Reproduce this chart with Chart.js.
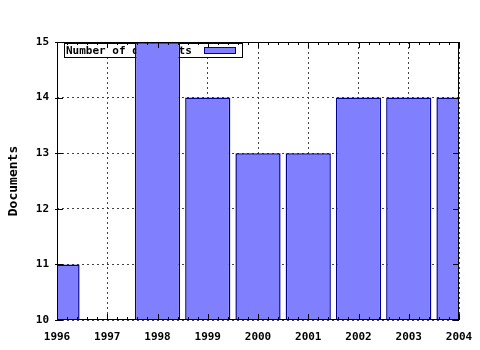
<!DOCTYPE html>
<html>
<head>
<meta charset="utf-8">
<script src="https://cdn.jsdelivr.net/npm/chart.js@4"></script>
<style>
  html, body { margin: 0; padding: 0; background: #fff; }
  canvas { display: block; }
</style>
</head>
<body>
<canvas id="chart" width="480" height="350"></canvas>
<script>
// data
const years = [1996, 1997, 1998, 1999, 2000, 2001, 2002, 2003, 2004];
const documents = [11, null, 15, 14, 13, 13, 14, 14, 14];
const legendLabel = 'Number of documents';
const axisTitle = 'Documents';

const monoFont = 'DejaVu Sans Mono';

// frame, gnuplot style ticks and the boxed legend
const framePlugin = {
  id: 'frame',
  beforeDatasetsDraw(chart) {
    const ctx = chart.ctx;
    const a = chart.chartArea;
    ctx.save();
    const x0 = Math.round(a.left) + 7, y0 = Math.round(a.top) + 1;
    ctx.font = 'bold 11px ' + monoFont;
    const tw = ctx.measureText(legendLabel).width;
    const w = Math.round(tw) + 52, h = 14;
    ctx.fillStyle = '#fff';
    ctx.fillRect(x0, y0, w, h);
    ctx.strokeStyle = '#000';
    ctx.lineWidth = 1;
    ctx.strokeRect(x0 + 0.5, y0 + 0.5, w, h);
    ctx.fillStyle = '#000';
    ctx.textBaseline = 'middle';
    ctx.fillText(legendLabel, x0 + 2, y0 + h / 2 + 1);
    ctx.fillStyle = '#8080ff';
    ctx.fillRect(x0 + w - 38, y0 + 4, 32, 7);
    ctx.strokeStyle = '#0000a0';
    ctx.strokeRect(x0 + w - 38 + 0.5, y0 + 4.5, 31, 6);
    ctx.restore();
  },
  afterDatasetsDraw(chart) {
    const ctx = chart.ctx;
    const a = chart.chartArea;
    const xs = chart.scales.x, ys = chart.scales.y;
    ctx.save();
    ctx.strokeStyle = '#000';
    ctx.lineWidth = 1;
    ctx.beginPath();
    // minor and major x ticks, bottom and top
    for (let i = 0; i <= (xs.max - xs.min) * 5; i++) {
      const v = xs.min + i / 5;
      const px = Math.round(xs.getPixelForValue(v)) + 0.5;
      const len = i % 5 === 0 ? 6 : 3;
      ctx.moveTo(px, a.bottom);
      ctx.lineTo(px, a.bottom - len);
      ctx.moveTo(px, a.top);
      ctx.lineTo(px, a.top + len);
    }
    ys.ticks.forEach(t => {
      const py = Math.round(ys.getPixelForValue(t.value)) + 0.5;
      ctx.moveTo(a.left - 2, py);
      ctx.lineTo(a.left + 6, py);
      ctx.moveTo(a.right, py);
      ctx.lineTo(a.right - 6, py);
    });
    ctx.stroke();
    ctx.strokeRect(Math.round(a.left) + 0.5, Math.round(a.top) + 0.5,
      Math.round(a.right - a.left) - 1, Math.round(a.bottom - a.top) - 1);
    ctx.restore();
  }
};

new Chart(document.getElementById('chart'), {
  type: 'bar',
  data: {
    datasets: [{
      label: legendLabel,
      data: years.map((y, i) => ({ x: y, y: documents[i] })),
      base: 10,
      backgroundColor: '#8080ff',
      borderColor: '#000090',
      borderWidth: 1.5,
      borderSkipped: 'start',
      categoryPercentage: 1,
      barPercentage: 0.9,
      clip: 0
    }]
  },
  options: {
    responsive: false,
    animation: false,
    events: [],
    layout: { padding: { top: 42, right: 21, left: 0, bottom: 0 } },
    plugins: {
      legend: { display: false },
      tooltip: { enabled: false }
    },
    scales: {
      x: {
        type: 'linear',
        min: 1996,
        max: 2004,
        offset: false,
        afterFit: s => { s.height = 30; s.paddingLeft = 0; s.paddingRight = 0; },
        ticks: {
          stepSize: 1,
          color: '#000',
          padding: 11,
          maxRotation: 0,
          autoSkip: false,
          font: { family: monoFont, size: 11, weight: 'bold' },
          callback: v => String(v)
        },
        grid: { offset: false, color: '#444', drawTicks: false },
        border: { display: false, dash: [2, 3] }
      },
      y: {
        min: 10,
        max: 15,
        afterFit: s => { s.width = 57; s.paddingTop = 0; s.paddingBottom = 0; },
        ticks: {
          stepSize: 1,
          color: '#000',
          padding: 8,
          font: { family: monoFont, size: 11, weight: 'bold' }
        },
        grid: { color: '#444', drawTicks: false },
        border: { display: false, dash: [2, 3] },
        title: {
          display: true,
          text: axisTitle,
          color: '#000',
          padding: { top: 6, bottom: 0 },
          font: { family: monoFont, size: 13, weight: 'bold' }
        }
      }
    }
  },
  plugins: [framePlugin]
});
</script>
</body>
</html>
